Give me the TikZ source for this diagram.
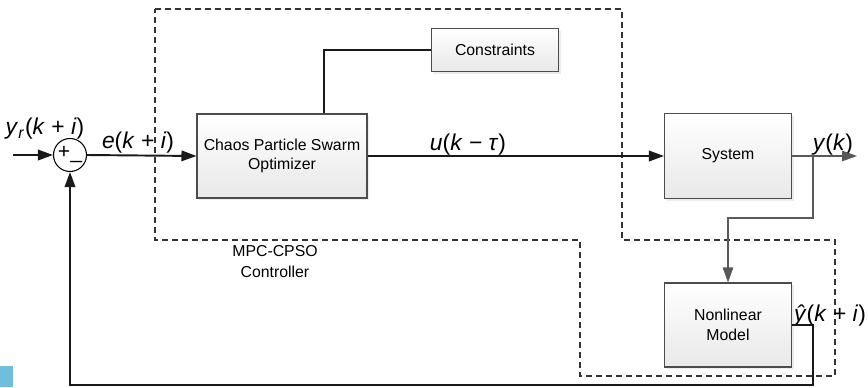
\documentclass[tikz,border=0pt]{standalone}
\usepackage{fontspec}
\setmainfont{Liberation Sans}
\usetikzlibrary{arrows.meta}
\usetikzlibrary{shadows}
\definecolor{tabblue}{RGB}{110,190,220}

\begin{document}
\begin{tikzpicture}
[x=0.2mm,y=-0.2mm,%
  >={Triangle[length=3mm,width=2.1mm]},%
  block/.style={draw=black!70,line width=0.6pt,top color=white,bottom color=black!9,%
    drop shadow={shadow xshift=0.4mm,shadow yshift=-0.4mm,opacity=0.15},%
    align=center,inner sep=0pt,font=\fontsize{9}{11}\selectfont},%
  sig/.style={inner sep=0pt,font=\fontsize{13}{15}\selectfont},%
  main/.style={line width=1.1pt,black!90},%
  fine/.style={line width=0.6pt,black!65},%
  zone/.style={dash pattern=on 1.2mm off 0.8mm,line width=0.6pt,black!80}]
\useasboundingbox (0,0) rectangle (868,387);
\fill[tabblue] (0,366) rectangle (13,387);
\draw[zone] (155,9) -- (622,9) -- (622,240) -- (835,240) -- (835,376)
  -- (580,376) -- (580,240) -- (155,240) -- cycle;
\node[draw,circle,minimum size=6.6mm,inner sep=0pt,line width=0.6pt,fill=white,%
  font=\fontsize{12}{12}\selectfont] (sum) at (70,155) {+\_};
\node[block,minimum width=34mm,minimum height=16.8mm] (cpso) at (282,156)
  {Chaos Particle Swarm\\Optimizer};
\node[block,minimum width=25.4mm,minimum height=8.6mm] (cons) at (495,50) {Constraints};
\node[block,minimum width=25.4mm,minimum height=17mm] (sys) at (728,156) {System};
\node[block,minimum width=25.4mm,minimum height=16.8mm] (model) at (728,325)
  {Nonlinear\\Model};
\node[sig] (yr) at (45,129) {\textit{y}\textsubscript{\textit{r}}(\textit{k} + \textit{i})};
\node[sig] (e) at (138,143) {\textit{e}(\textit{k} + \textit{i})};
\node[sig] (u) at (468,145) {\textit{u}(\textit{k} − \textit{τ})};
\node[sig] (y) at (833,145) {\textit{y}(\textit{k})};
\node[sig] (yhat) at (830,316) {\textit{ŷ}(\textit{k} + \textit{i})};
\node[align=center,font=\fontsize{9}{12}\selectfont] (mpc) at (275,262)
  {MPC-CPSO\\Controller};
\coordinate (in) at (13,155);
\coordinate (ct) at (324,51);
\coordinate (out) at (857,156);
\coordinate (br) at (813,156);
\coordinate (turn) at (813,218);
\coordinate (fb) at (813,385);
\path
(in) edge[main,->] (sum.west)
(sum.east) edge[main,->] (cpso.west)
(cpso.east) edge[main,->] (sys.west);
\draw[main] (cpso.north -| ct) |- (cons.west);
\draw[fine,->] (sys.east) -- (out);
\draw[fine,->] (br) -- (turn) -| (model.north);
\draw[main,->] (model.east) -| (fb) -| (sum.south);
\end{tikzpicture}
\end{document}
